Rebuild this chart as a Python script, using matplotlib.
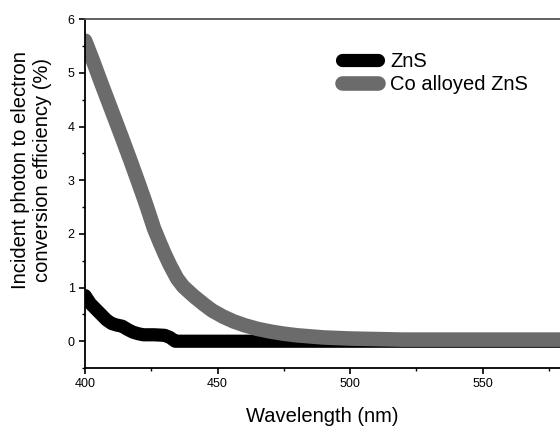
import numpy as np
import matplotlib.pyplot as plt
from matplotlib.ticker import MultipleLocator

plt.rcParams['font.family'] = ['Liberation Sans', 'DejaVu Sans']

# ZnS curve
zns_wl = [400, 402, 404, 406, 408, 410, 412, 414, 416, 418, 420, 422, 426, 430, 432, 434, 440, 500, 579]
zns_eff = [0.85, 0.7, 0.6, 0.5, 0.4, 0.33, 0.3, 0.28, 0.22, 0.17, 0.14, 0.12, 0.12, 0.11, 0.07, 0.0, 0.0, 0.0, 0.0]

# Co alloyed ZnS curve
co_wl = [400, 403, 406, 410, 414, 417, 420, 423, 426, 428, 430, 432, 434.7, 437, 441, 445, 448, 452, 456,
         460, 465, 470, 475, 480, 490, 500, 510, 520, 579]
co_eff = [5.6, 5.22, 4.82, 4.3, 3.78, 3.38, 2.97, 2.55, 2.1, 1.86, 1.63, 1.42, 1.17, 1.02, 0.84, 0.68, 0.57, 0.46, 0.37,
          0.3, 0.23, 0.18, 0.14, 0.11, 0.07, 0.05, 0.04, 0.03, 0.03]

fig = plt.figure(figsize=(5.6, 4.26), dpi=100)
ax = fig.add_axes([0.152, 0.136, 0.848, 0.819])

ax.plot(zns_wl, zns_eff, color='black', lw=9.5, label='ZnS', solid_capstyle='round')
ax.plot(co_wl, co_eff, color='#6b6b6b', lw=10.5, label='Co alloyed ZnS', solid_capstyle='round')

ax.set_xlim(400, 579.2)
ax.set_ylim(-0.5, 6)
ax.xaxis.set_major_locator(MultipleLocator(50))
ax.xaxis.set_minor_locator(MultipleLocator(25))
ax.yaxis.set_major_locator(MultipleLocator(1))
ax.yaxis.set_minor_locator(MultipleLocator(0.5))
ax.tick_params(which='major', direction='out', length=4, width=1.2, labelsize=9)
ax.tick_params(which='minor', direction='out', length=2.5, width=1.0)

ax.spines['right'].set_visible(False)
ax.spines['top'].set_color('#555555')
for s in ['left', 'bottom', 'top']:
    ax.spines[s].set_linewidth(1.3)

ax.set_xlabel('Wavelength (nm)', fontsize=14.5, labelpad=12)
ax.set_ylabel('Incident photon to electron\nconversion efficiency (%)', fontsize=14.5)
ax.yaxis.set_label_coords(-0.07, 0.567)

leg = ax.legend(loc='upper left', bbox_to_anchor=(0.541, 0.906), frameon=False, fontsize=14.5,
                handlelength=1.8, handletextpad=0.6, labelspacing=0.2,
                borderpad=0, borderaxespad=0)

fig.savefig('out.png', dpi=100)
